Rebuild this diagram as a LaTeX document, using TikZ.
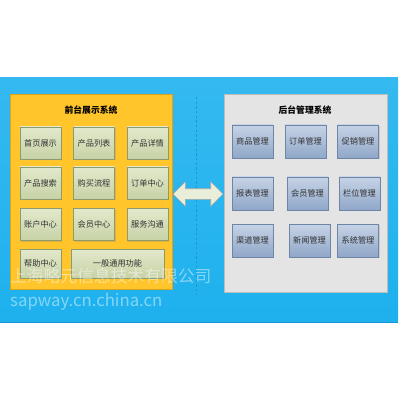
\documentclass[tikz,border=0pt]{standalone}
\usepackage{fontspec}
\setmainfont{Noto Sans CJK SC}
\usetikzlibrary{shapes.arrows,shadows}
\definecolor{skyblue}{HTML}{1EB1EE}
\definecolor{skydeep}{HTML}{1598D6}
\definecolor{panelyellow}{HTML}{FFC52B}
\definecolor{panelyellowline}{HTML}{D9A31E}
\definecolor{panelgrey}{HTML}{E4E4E4}
\definecolor{panelgreyline}{HTML}{BDBDBD}
\definecolor{greentop}{HTML}{E2E9CC}
\definecolor{greenbot}{HTML}{C7D2A6}
\definecolor{greenline}{HTML}{8D9A6E}
\definecolor{bluetop}{HTML}{C6D3E6}
\definecolor{bluebot}{HTML}{90A7C8}
\definecolor{blueline}{HTML}{6D85A6}
\definecolor{arrowfill}{HTML}{E9EEDB}
\definecolor{textgrey}{HTML}{333333}
\tikzset{
	panel/.style={draw, line width=0.6pt, inner sep=0pt},
	paneltitle/.style={font=\fontsize{7.5}{9}\selectfont\bfseries, text=black},
	frontbox/.style={draw=greenline, top color=greentop, bottom color=greenbot,
		minimum width=1.23cm, minimum height=0.96cm, inner sep=0pt, text=textgrey,
		font=\fontsize{7}{8}\selectfont,
		drop shadow={shadow xshift=0.04cm, shadow yshift=-0.04cm, opacity=0.25}},
	backbox/.style={draw=blueline, top color=bluetop, bottom color=bluebot,
		minimum width=1.23cm, minimum height=0.99cm, inner sep=0pt, text=textgrey,
		font=\fontsize{7}{8}\selectfont,
		drop shadow={shadow xshift=0.04cm, shadow yshift=-0.04cm, opacity=0.25}},
	bigarrow/.style={double arrow, draw=gray!70, fill=arrowfill, line width=0.5pt,
		minimum height=1.5cm, inner sep=0.15cm, double arrow head extend=0.21cm,
		double arrow head indent=0pt},
	mark text/.style={text=white, text opacity=0.45, inner sep=0pt, anchor=west}
}
\begin{document}
\begin{tikzpicture}[x=0.03cm, y=-0.03cm]
	\useasboundingbox (0,0) rectangle (400,400);
	% blue ground
	\shade[top color=skyblue!90!white, bottom color=skyblue] (0,78) rectangle (398,322);
	\draw[skydeep, line width=0.8pt] (0,322) -- (398,322);
	\draw[skydeep, dashed, thin, dash pattern=on 2pt off 2pt] (196,97) -- (196,295);
	% front side
	\node[panel, draw=panelyellowline, fill=panelyellow, minimum width=4.86cm,
		minimum height=5.85cm] (front) at (91,191.5) {};
	\node[paneltitle] (fronttitle) at (91,110) {前台展示系统};
	\foreach \lbl/\px/\py [count=\i] in {
			首页展示/40.5/143, 产品列表/94/143, 产品详情/147.5/143,
			产品搜索/40.5/183, 购买流程/94/183, 订单中心/147.5/183,
			账户中心/40.5/224.5, 会员中心/94/224.5, 服务沟通/147.5/224.5}
		\node[frontbox] (f\i) at (\px,\py) {\lbl};
	\node[frontbox, minimum height=0.87cm] (help) at (40.5,263.5) {帮助中心};
	\node[frontbox, minimum height=0.87cm, minimum width=2.79cm] (common) at (117.5,263.5) {一般通用功能};
	% back side
	\node[panel, draw=panelgreyline, fill=panelgrey, minimum width=4.89cm,
		minimum height=5.94cm] (back) at (305.5,193) {};
	\node[paneltitle] (backtitle) at (305,110) {后台管理系统};
	\foreach \lbl/\px/\py [count=\i] in {
			商品管理/252.5/141.5, 订单管理/305.5/141.5, 促销管理/358/141.5,
			报表管理/252.5/193.5, 会员管理/307.5/193.5, 栏位管理/359.5/193.5,
			渠道管理/252.5/240.5, 新闻管理/309.5/240.5, 系统管理/358/240.5}
		\node[backbox] (b\i) at (\px,\py) {\lbl};
	% link between the two
	\node[bigarrow] (link) at (198,194) {};
	% watermark
	\node[mark text, font=\fontsize{14.3}{16}\selectfont] (markcn) at (10,276) {上海略元信息技术有限公司};
	\node[mark text, font=\fontsize{14.3}{16}\selectfont] (markurl) at (10,302) {sapway.cn.china.cn};
\end{tikzpicture}
\end{document}
